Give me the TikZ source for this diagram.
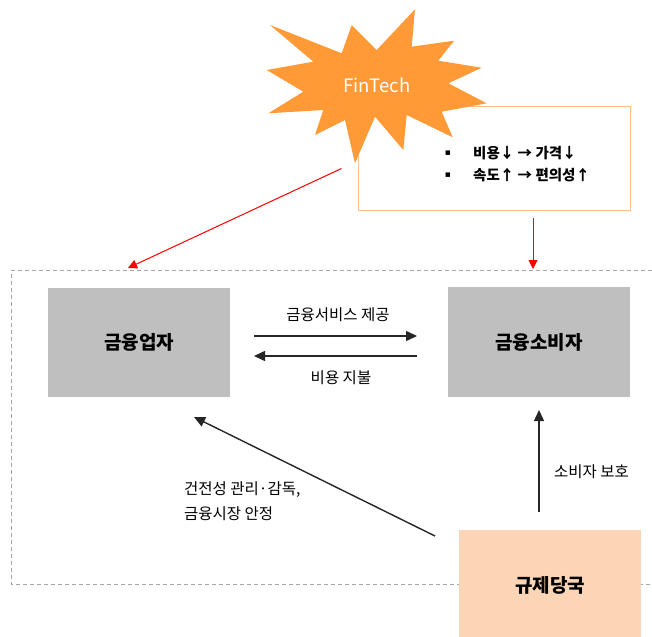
\documentclass[tikz,border=0pt]{standalone}
\usepackage{fontspec}
\setmainfont{Noto Sans CJK KR}
\newfontfamily\dejavu{DejaVu Sans}
\usetikzlibrary{arrows.meta}
\definecolor{boxgrey}{HTML}{BFBFBF}
\definecolor{peach}{HTML}{FBD5B5}
\definecolor{starorange}{HTML}{FF9A36}
\definecolor{lightorange}{HTML}{FAC090}
\definecolor{dashgrey}{HTML}{A6A6A6}
\tikzset{
  greybox/.style={fill=boxgrey, draw=none, inner sep=0pt, font=\fontsize{19}{23}\selectfont\bfseries},
  lbl/.style={font=\fontsize{15.5}{18}\selectfont, inner sep=0pt},
  blackarrow/.style={line width=1.4pt, black!85, -{Triangle[length=11pt,width=10pt]}},
  redarrow/.style={line width=1pt, red, -{Triangle[length=9pt,width=9pt]}},
}
\begin{document}
\begin{tikzpicture}[x=1pt,y=-1pt]
\useasboundingbox (0,0) rectangle (652,636);
% dashed frame
\draw[dashgrey, dashed, dash pattern=on 4pt off 3pt, line width=0.8pt] (652,270) -- (11.5,270) -- (11.5,584) -- (652,584);
% boxes
\node[greybox, minimum width=182pt, minimum height=109pt] (firm) at (139,342.5) {금융업자};
\node[greybox, minimum width=182pt, minimum height=110pt] (cons) at (539,342) {금융소비자};
\node[fill=peach, inner sep=0pt, minimum width=182pt, minimum height=110pt, anchor=north west] (reg) at (459,530) {};
\node[font=\fontsize{19}{23}\selectfont\bfseries] (regtxt) at (550,585) {규제당국};
% benefit box
\node[draw=lightorange, line width=1.2pt, fill=white, minimum width=272pt, minimum height=104pt, anchor=north west, inner sep=0pt] (bene) at (358,106) {};
\node[font=\fontsize{14.5}{17}\selectfont\bfseries, anchor=west, inner sep=0pt] (b1) at (473,153) {비용↓ → 가격↓};
\node[font=\fontsize{14.5}{17}\selectfont\bfseries, anchor=west, inner sep=0pt] (b2) at (473,175) {속도↑ → 편의성↑};
\node[font=\dejavu\fontsize{9}{10}\selectfont, inner sep=0pt] (d1) at (448,153) {▪};
\node[font=\dejavu\fontsize{9}{10}\selectfont, inner sep=0pt] (d2) at (448,175) {▪};
% star
\fill[starorange] (270,25) -- (341.7,53.3) -- (351.7,25) -- (376.7,50) -- (415,9.3) -- (411.7,46.7)
  -- (454,40.7) -- (438.3,60.7) -- (481.7,67.7) -- (448.3,83.3) -- (486.7,103.3) -- (441.7,111.7)
  -- (452.7,137.3) -- (406.7,115) -- (403.3,150) -- (375,116.7) -- (355,163.3) -- (345,120)
  -- (315,135) -- (323.3,110) -- (268.3,113.3) -- (303.3,91.7) -- (266.7,70) -- (313.3,61.7) -- cycle;
\node[text=white, font=\fontsize{18.5}{22}\selectfont] (fin) at (377,85) {FinTech};
% coordinates
\coordinate (s1) at (341.5,168.5);
\coordinate (t1) at (128,268);
\coordinate (s2) at (533,218);
\coordinate (t2) at (533,269);
\coordinate (a1s) at (254,336);
\coordinate (a1e) at (417,336);
\coordinate (a2s) at (417,356);
\coordinate (a2e) at (254,356);
\coordinate (d1s) at (435,536);
\coordinate (d1e) at (194,417);
\coordinate (u1s) at (539,512);
\coordinate (u1e) at (539,410);
% arrows
\draw[redarrow] (s1) -- (t1);
\draw[redarrow] (s2) -- (t2);
\draw[blackarrow] (a1s) -- (a1e);
\draw[blackarrow] (a2s) -- (a2e);
\draw[blackarrow] (d1s) -- (d1e);
\draw[blackarrow] (u1s) -- (u1e);
% labels
\node[lbl] (l1) at (338,315) {금융서비스 제공};
\node[lbl] (l2) at (341,378) {비용 지불};
\node[lbl, anchor=west] (l3) at (554,472) {소비자 보호};
\node[lbl, anchor=north west, align=left, font=\fontsize{15.5}{25}\selectfont] (l4) at (184,481) {건전성 관리·감독,\\금융시장 안정};
\end{tikzpicture}
\end{document}
